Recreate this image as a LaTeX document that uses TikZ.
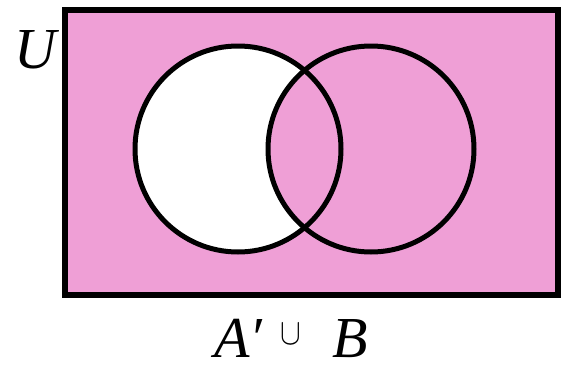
\documentclass[tikz,border=0pt]{standalone}
\usepackage{fontspec}
\usepackage{graphicx}
\setmainfont{Liberation Serif}
\definecolor{venn}{HTML}{EF9FD6}
\begin{document}
\begin{tikzpicture}[x=1pt,y=-1pt,
  setcircle/.style={draw=black,line width=5pt},
  lbl/.style={font=\fontsize{58}{60}\selectfont\itshape,inner sep=0pt}]
\useasboundingbox (0,0) rectangle (563,367);
\node[draw=black,line width=6.5pt,fill=venn,minimum width=493pt,minimum height=285pt,inner sep=0pt] (U) at (311.5,152.5) {};
\coordinate (ca) at (238,149);
\coordinate (cb) at (371,149);
\fill[white] (ca) circle (103);
\begin{scope}
\clip (ca) circle (103);
\fill[venn] (cb) circle (103);
\end{scope}
\draw[setcircle] (ca) circle (103);
\draw[setcircle] (cb) circle (103);
\node[lbl,anchor=base] (ul) at (35,68) {U};
\node[lbl,anchor=base west] (la) at (214,357) {A′};
\node[inner sep=0pt,anchor=base] (cup) at (291,344) {\scalebox{3.1}[3.7]{$\cup$}};
\node[lbl,anchor=base west] (lb) at (332,357) {B};
\end{tikzpicture}
\end{document}
